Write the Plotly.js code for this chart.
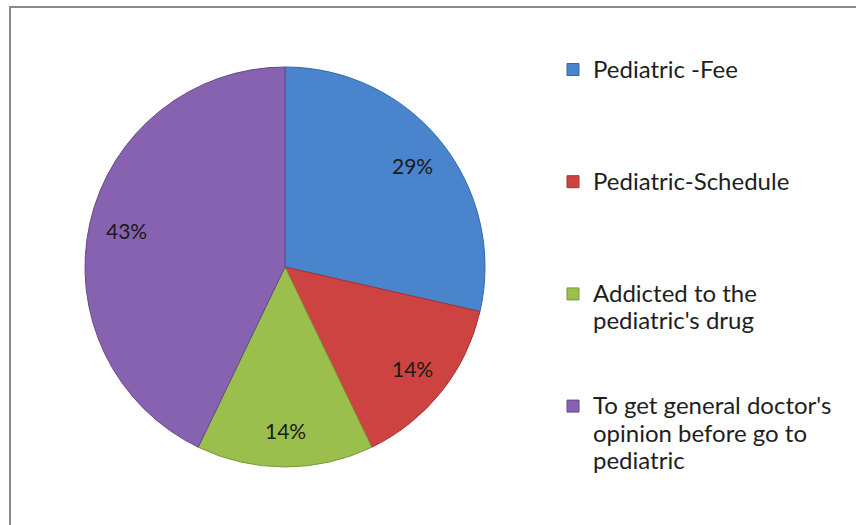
<!DOCTYPE html>
<html>
<head>
<meta charset="utf-8">
<script src="https://cdn.plot.ly/plotly-3.0.1.min.js"></script>
<style>
  html, body { margin: 0; padding: 0; background: #fff; }
  #wrap { position: relative; width: 856px; height: 525px; overflow: hidden; }
  #chart { width: 856px; height: 525px; }
  #frame { position: absolute; left: 9px; top: 6px; width: 860px; height: 540px;
           border-left: 2px solid #8a8a8a; border-top: 2px solid #8a8a8a; pointer-events: none; }
</style>
</head>
<body>
<div id="wrap">
  <div id="chart"></div>
  <div id="frame"></div>
</div>
<script>
const categories = [
  ["Pediatric -Fee"],
  ["Pediatric-Schedule"],
  ["Addicted to the", "pediatric's drug"],
  ["To get general doctor's", "opinion before go to", "pediatric"]
];
const values = [2, 1, 1, 3];
const colors = ["#4a84cd", "#cd4341", "#9bbf4c", "#8762b0"];
const edgeColors = ["#2f6aa8", "#a53331", "#79983a", "#66488c"];

const FONT = "Lato, 'Open Sans', sans-serif";
const LINES_PER_ITEM = 4;

// legend labels: each text line at 24px, padded with blank lines for spacing
const legendLabels = categories.map(lines => {
  const parts = lines.map(l => '<span style="font-size:24px">' + l + '</span>');
  while (parts.length < LINES_PER_ITEM) parts.push(' ');
  return parts.join('<br>');
});

// pie geometry (paper fractions)
const dom = { x: [85/856, 485/856], y: [58/525, 458/525] };

const trace = {
  type: "pie",
  labels: legendLabels,
  values: values,
  sort: false,
  direction: "clockwise",
  rotation: 0,
  marker: { colors: colors, line: { color: edgeColors, width: 1 } },
  textinfo: "none",
  hoverinfo: "percent",
  domain: dom
};

// percentage labels placed along each slice bisector (computed from values)
const total = values.reduce((a, b) => a + b, 0);
const cx = (dom.x[0] + dom.x[1]) / 2;
const cy = (dom.y[0] + dom.y[1]) / 2;
const rx = (dom.x[1] - dom.x[0]) / 2;
const ry = (dom.y[1] - dom.y[0]) / 2;
const labelR = 0.815;
let cum = 0;
const annotations = values.map(v => {
  const mid = (cum + v / 2) / total * 2 * Math.PI;
  cum += v;
  return {
    xref: "paper", yref: "paper",
    x: cx + labelR * rx * Math.sin(mid),
    y: cy + labelR * ry * Math.cos(mid),
    text: Math.round(v / total * 100) + "%",
    showarrow: false,
    xanchor: "center", yanchor: "middle",
    font: { family: FONT, size: 21, color: "#1a1a1a" }
  };
});

const layout = {
  width: 856, height: 525,
  margin: { l: 0, r: 0, t: 0, b: 0 },
  paper_bgcolor: "#ffffff",
  showlegend: true,
  legend: {
    x: 553/856, xanchor: "left",
    y: 0.906, yanchor: "top",
    valign: "top",
    font: { family: FONT, size: 21, color: "#1e1e1e" },
    itemwidth: 30,
    tracegroupgap: 0
  },
  annotations: annotations,
  font: { family: FONT }
};

Plotly.newPlot("chart", [trace], layout, { displayModeBar: false, staticPlot: true });
</script>
</body>
</html>
